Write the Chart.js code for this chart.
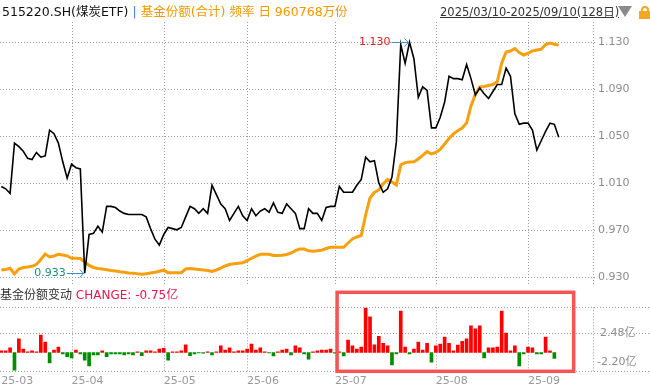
<!DOCTYPE html>
<html>
<head>
<meta charset="utf-8">
<script src="https://cdn.jsdelivr.net/npm/chart.js@4.4.1/dist/chart.umd.min.js"></script>
<style>
  html, body { margin: 0; padding: 0; background: #fff; }
  body { width: 650px; height: 391px; position: relative; overflow: hidden;
         font-family: "DejaVu Sans", "Noto Sans CJK SC", sans-serif; }
  canvas { position: absolute; left: 0; }
  #mainChart { top: 0; }
  #flowChart { top: 286px; }
  .txt { position: absolute; white-space: nowrap; line-height: 16px; }
  .tri { position: absolute; left: 618px; top: 6px; width: 0; height: 0;
         border-left: 7px solid transparent; border-right: 7px solid transparent;
         border-top: 11px solid #8a8a8a; }
  .lock-shackle { position: absolute; left: 641px; top: 6px; width: 4px; height: 5px;
                  border: 2px solid #f5a623; border-bottom: none; border-radius: 4px 4px 0 0; }
  .lock-body { position: absolute; left: 639px; top: 11px; width: 11px; height: 8px; background: #f5a623; }
</style>
</head>
<body>
<canvas id="mainChart" width="650" height="286"></canvas>
<canvas id="flowChart" width="650" height="105"></canvas>

<div class="txt" style="left:2px;top:4px;font-size:12.5px;color:#111;">515220.SH(煤炭ETF) <span style="color:#3b7dd8">|</span> <span style="color:#f39800">基金份额(合计) 频率 日 960768万份</span></div>
<div class="txt" style="left:440px;top:4px;font-size:11.5px;color:#333;text-decoration:underline;">2025/03/10-2025/09/10(128日)</div>
<div class="tri"></div>
<div class="lock-shackle"></div>
<div class="lock-body"></div>
<div class="txt" style="left:0px;top:287px;font-size:12px;color:#333;">基金份额变动 <span style="color:#e8174f">CHANGE: -0.75亿</span></div>

<script>
// 128 trading days, 2025/03/10 - 2025/09/10 (x = day index)
const monthLabels = ['25-03', '25-04', '25-05', '25-06', '25-07', '25-08', '25-09'];
const monthStart = [0, 16, 37, 56, 76, 99, 120];

// unit NAV (black line)
const nav = [
  1.007, 1.005, 1.001, 1.044, 1.041, 1.037, 1.031, 1.030, 1.036, 1.032,
  1.033, 1.055, 1.052, 1.044, 1.028, 1.014, 1.026, 1.023, 1.022, 0.933,
  0.966, 0.967, 0.973, 0.968, 0.990, 0.990, 0.989, 0.986, 0.984, 0.983,
  0.983, 0.983, 0.983, 0.981, 0.971, 0.962, 0.957, 0.966, 0.972, 0.971,
  0.970, 0.972, 0.981, 0.990, 0.988, 0.984, 0.988, 0.984, 1.008, 1.000,
  0.992, 0.988, 0.978, 0.984, 0.990, 0.982, 0.978, 0.988, 0.982, 0.986,
  0.988, 0.985, 0.993, 0.985, 0.984, 0.992, 0.988, 0.984, 0.971, 0.971,
  0.988, 0.984, 0.984, 0.978, 0.989, 0.990, 0.990, 1.007, 1.002, 1.002,
  1.002, 1.008, 1.013, 1.032, 1.028, 1.029, 1.010, 1.002, 1.005, 1.015,
  1.045, 1.128, 1.112, 1.130, 1.116, 1.083, 1.092, 1.089, 1.057, 1.057,
  1.066, 1.079, 1.101, 1.099, 1.099, 1.098, 1.111, 1.099, 1.085, 1.091,
  1.086, 1.082, 1.088, 1.094, 1.094, 1.108, 1.101, 1.069, 1.060, 1.061,
  1.061, 1.055, 1.038, 1.046, 1.054, 1.061, 1.060, 1.049
];

// fund shares, 万份 (orange line)
const shares = [
  544800, 545700, 547900, 537400, 546600, 549400, 550300, 551600, 554900, 564200,
  574400, 568800, 570700, 573800, 572500, 571000, 566400, 566400, 566000, 559600,
  553100, 549400, 547500, 546600, 545300, 544000, 542900, 541600, 540500, 539200,
  538700, 537700, 537000, 537700, 539200, 540700, 542500, 544400, 539800, 539800,
  539800, 539800, 546600, 547500, 546600, 545700, 544800, 543800, 542000, 544800,
  548100, 552200, 554900, 556200, 557300, 558300, 562000, 566400, 570300, 573800,
  573800, 573800, 571600, 571400, 572100, 573400, 576200, 580600, 583600, 583600,
  580300, 579500, 580300, 581400, 584500, 586800, 586800, 586800, 586800, 594700,
  602100, 605800, 608600, 646500, 678000, 688100, 692800, 703900, 712200, 707600,
  702000, 739000, 743400, 744600, 745100, 750100, 757000, 763800, 759400, 762100,
  767700, 777900, 788000, 796400, 802600, 807500, 816700, 848200, 869400, 883300,
  884200, 886100, 887900, 893500, 927700, 948100, 949900, 954500, 947100, 942500,
  945700, 949900, 951800, 953100, 961900, 964700, 962500, 960768
];

// daily share change, 亿份 (bars)
const shareChange = [
  0.2, 0.2, 0.6, -2.3, 1.75, 0.45, 0.1, 0.2, 0.1, 2.25,
  1.35, -1.35, 0.3, 0.7, -0.2, -0.55, -0.7, 0.3, -0.2, -1.0,
  -1.75, -0.3, -0.3, 0.2, -0.55, -0.2, -0.2, -0.2, -0.3, -0.2,
  -0.3, 0.1, -0.4, 0.2, 0.2, 0.1, 0.45, 0.55, -1.0, 0.1,
  0.1, 0.2, 1.0, -0.4, -0.2, -0.05, -0.1, 0.1, -0.3, 0.1,
  0.85, 0.3, 0.6, 0.1, 0.2, 0.2, 0.45, 1.1, 0.3, 0.6,
  0.1, -0.05, -0.45, 0.1, 0.3, 0.45, -0.3, 0.85, 0.6, -0.2,
  -0.85, 0.1, 0.2, 0.3, 0.3, 0.45, -0.1, 0.1, -0.45, 1.6,
  0.85, 0.45, 0.7, 5.75, 4.6, 1.0, 2.1, 1.2, 0.85, -1.6,
  -0.2, 5.35, 0.7, -0.2, 0.45, 1.35, 0.3, 1.2, -1.25, 0.85,
  1.1, 2.0, 1.2, 0.2, 0.95, 1.45, 1.75, 3.45, 3.05, 3.45,
  -0.7, 0.6, 0.6, 0.7, 5.35, 2.5, 0.2, 0.85, -1.75, -0.2,
  0.7, 0.6, -0.2, -0.2, 2.0, 0.2, -0.75, null
];

const navTicks = [0.930, 0.970, 1.010, 1.050, 1.090, 1.130];
const changeTicks = [2.48];
const CHANGE_MIN = -2.43, CHANGE_MAX = 5.84;

Chart.defaults.font.family = '"DejaVu Sans", "Noto Sans CJK SC", sans-serif';

const X_MIN = -0.3, X_MAX = 134.8;
const GRID = '#9a9a9a';
const TICK = '#8c8c8c';

// keep axis boxes from eating into the plot area
const fixBox = (s, w) => {
  if (w != null) s.width = w;
  s.paddingTop = 0; s.paddingBottom = 0; s.paddingLeft = 0; s.paddingRight = 0;
};

// dotted grid: month separators, right edge and the y tick levels
const dottedGrid = {
  id: 'dottedGrid',
  beforeDatasetsDraw(chart, args, opts) {
    const { ctx, chartArea: a, scales: { x, y } } = chart;
    ctx.save();
    ctx.strokeStyle = GRID;
    ctx.lineWidth = 1;
    ctx.setLineDash([1, 2]);
    ctx.beginPath();
    monthStart.slice(1).concat([X_MAX]).forEach(v => {
      const px = Math.round(x.getPixelForValue(v)) + 0.5;
      ctx.moveTo(px, a.top);
      ctx.lineTo(px, a.bottom);
    });
    opts.levels.forEach(v => {
      const py = Math.round(y.getPixelForValue(v)) + 0.5;
      ctx.moveTo(a.left, py);
      ctx.lineTo(a.right + opts.ext, py);
    });
    ctx.stroke();
    ctx.restore();
  }
};

// max / min markers on the NAV line
const extremaLabels = {
  id: 'extremaLabels',
  afterDatasetsDraw(chart) {
    const { ctx, scales: { x, y } } = chart;
    const vals = nav.filter(v => v != null);
    const hi = nav.indexOf(Math.max(...vals));
    const lo = nav.indexOf(Math.min(...vals));
    const mark = (i, color) => {
      const px = x.getPixelForValue(i);
      const py = Math.round(y.getPixelForValue(nav[i])) + 0.5;
      ctx.save();
      ctx.strokeStyle = '#3d8fc0';
      ctx.lineWidth = 1;
      ctx.beginPath();
      ctx.moveTo(px - 18, py); ctx.lineTo(px - 1, py);
      ctx.moveTo(px - 5, py - 4); ctx.lineTo(px - 1, py); ctx.lineTo(px - 5, py + 4);
      ctx.stroke();
      ctx.fillStyle = color;
      ctx.font = '11px "DejaVu Sans"';
      ctx.textAlign = 'right';
      ctx.textBaseline = 'middle';
      ctx.fillText(nav[i].toFixed(3), px - 19, py);
      ctx.restore();
    };
    mark(hi, '#e02020');
    mark(lo, '#1e8f6e');
  }
};

new Chart(document.getElementById('mainChart'), {
  type: 'line',
  data: {
    datasets: [
      {
        data: nav.map((v, i) => ({ x: i, y: v })),
        borderColor: '#000',
        borderWidth: 1.6,
        yAxisID: 'y'
      },
      {
        data: shares.map((v, i) => ({ x: i, y: v })),
        borderColor: '#f7a00f',
        borderWidth: 3,
        yAxisID: 'y2'
      }
    ]
  },
  options: {
    responsive: false,
    animation: false,
    devicePixelRatio: 1,
    layout: { padding: { top: 22, bottom: 1, left: 0, right: 0 } },
    elements: { point: { radius: 0 }, line: { tension: 0 } },
    plugins: {
      legend: { display: false }, tooltip: { enabled: false },
      dottedGrid: { levels: navTicks, ext: 4 }
    },
    scales: {
      x: {
        type: 'linear', min: X_MIN, max: X_MAX,
        afterFit: s => { fixBox(s); s.height = 0; },
        ticks: { display: false },
        grid: { display: false, drawTicks: false },
        border: { display: false }
      },
      y: {
        position: 'right', min: 0.9229, max: 1.1473,
        afterBuildTicks: s => { s.ticks = navTicks.map(v => ({ value: v })); },
        afterFit: s => fixBox(s, 57),
        ticks: { color: TICK, font: { size: 11 }, padding: 5, callback: v => v.toFixed(3) },
        grid: { display: false, drawTicks: false },
        border: { display: false }
      },
      y2: { display: false, min: 517000, max: 1003550 }
    }
  },
  plugins: [dottedGrid, extremaLabels]
});

// highlight box and lower label on the flow panel
const flowExtras = {
  id: 'flowExtras',
  afterDraw(chart) {
    const { ctx, chartArea: a, scales: { x } } = chart;
    ctx.save();
    ctx.fillStyle = TICK;
    ctx.font = '11px "DejaVu Sans", "Noto Sans CJK SC"';
    ctx.textBaseline = 'middle';
    ctx.fillText('-2.20亿', a.right + 4, a.bottom - 9);
    const x1 = x.getPixelForValue(76.5), x2 = x.getPixelForValue(130.4);
    ctx.strokeStyle = '#f45656';
    ctx.lineWidth = 3.5;
    ctx.strokeRect(x1, a.top - 15, x2 - x1, a.bottom - a.top + 15);
    ctx.restore();
  }
};

new Chart(document.getElementById('flowChart'), {
  type: 'bar',
  data: {
    datasets: [{
      data: shareChange.map((v, i) => ({ x: i, y: v })),
      backgroundColor: shareChange.map(v => (v >= 0 ? '#ff0000' : '#008c00')),
      barThickness: 3,
      borderWidth: 0
    }]
  },
  options: {
    responsive: false,
    animation: false,
    devicePixelRatio: 1,
    layout: { padding: { top: 21.3, bottom: 0, left: 0, right: 0 } },
    plugins: {
      legend: { display: false }, tooltip: { enabled: false },
      dottedGrid: { levels: [CHANGE_MIN].concat(changeTicks, [CHANGE_MAX]), ext: 57 }
    },
    scales: {
      x: {
        type: 'linear', min: X_MIN, max: X_MAX, offset: false,
        afterBuildTicks: s => { s.ticks = monthStart.map(v => ({ value: v })); },
        afterFit: s => { fixBox(s); s.height = 19.7; },
        ticks: {
          align: 'start', autoSkip: false, maxRotation: 0, padding: 3,
          color: '#999', font: { size: 11 },
          callback: (v, i) => monthLabels[i] || ''
        },
        grid: { display: false, drawTicks: false },
        border: { display: false }
      },
      y: {
        position: 'right', min: CHANGE_MIN, max: CHANGE_MAX,
        afterBuildTicks: s => { s.ticks = changeTicks.map(v => ({ value: v })); },
        afterFit: s => fixBox(s, 57),
        ticks: { color: TICK, font: { size: 11 }, padding: 7,
                 callback: v => v.toFixed(2) + '亿' },
        grid: { display: false, drawTicks: false },
        border: { display: false }
      }
    }
  },
  plugins: [dottedGrid, flowExtras]
});
</script>
</body>
</html>
